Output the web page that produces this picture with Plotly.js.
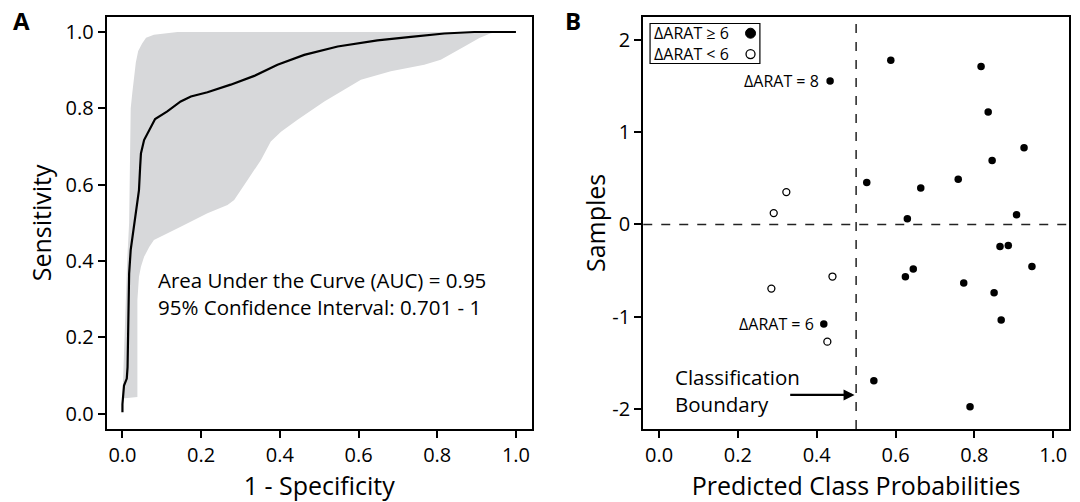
<!DOCTYPE html>
<html>
<head>
<meta charset="utf-8">
<script src="https://cdn.plot.ly/plotly-3.0.1.min.js"></script>
<style>html,body{margin:0;padding:0;background:#fff;}#chart{width:1080px;height:502px;}</style>
</head>
<body>
<div id="chart"></div>
<script>
// ---- Panel A: ROC curve ----
const rocX = [0.000, 0.000, 0.004, 0.011, 0.013, 0.017, 0.021, 0.027, 0.036, 0.042, 0.045, 0.047, 0.055, 0.068, 0.083, 0.114, 0.148, 0.174, 0.216, 0.275, 0.335, 0.394, 0.462, 0.547, 0.648, 0.733, 0.818, 0.894, 0.945, 1.000];
const rocY = [0.004, 0.025, 0.074, 0.092, 0.122, 0.367, 0.429, 0.472, 0.534, 0.586, 0.647, 0.682, 0.717, 0.744, 0.772, 0.792, 0.818, 0.831, 0.842, 0.862, 0.885, 0.914, 0.940, 0.962, 0.978, 0.987, 0.996, 1.000, 1.000, 1.000];

// confidence band: upper edge (left to right) and lower edge (right to left)
const ciUpperX = [0.000, 0.002, 0.005, 0.008, 0.012, 0.017, 0.019, 0.021, 0.025, 0.030, 0.034, 0.040, 0.050, 0.060, 0.080, 0.140, 0.962];
const ciUpperY = [0.040, 0.100, 0.210, 0.300, 0.400, 0.500, 0.650, 0.800, 0.840, 0.880, 0.920, 0.950, 0.970, 0.985, 0.993, 1.000, 1.000];
const ciLowerX = [0.962, 0.936, 0.907, 0.869, 0.809, 0.767, 0.682, 0.606, 0.563, 0.513, 0.445, 0.403, 0.377, 0.352, 0.318, 0.284, 0.267, 0.216, 0.148, 0.080, 0.068, 0.055, 0.047, 0.042, 0.038, 0.038, 0.000];
const ciLowerY = [1.000, 0.997, 0.984, 0.962, 0.927, 0.914, 0.897, 0.875, 0.849, 0.818, 0.770, 0.739, 0.713, 0.665, 0.612, 0.560, 0.547, 0.525, 0.490, 0.455, 0.437, 0.411, 0.385, 0.359, 0.297, 0.044, 0.040];

const aucText = ["Area Under the Curve (AUC) = 0.95", "95% Confidence Interval: 0.701 - 1"];

// ---- Panel B: predicted class probabilities ----
const highX = [0.588, 0.817, 0.434, 0.835, 0.926, 0.845, 0.527, 0.759, 0.664, 0.630, 0.907, 0.865, 0.886, 0.946, 0.645, 0.625, 0.773, 0.850, 0.868, 0.418, 0.545, 0.789];
const highY = [1.779, 1.710, 1.555, 1.218, 0.831, 0.694, 0.455, 0.491, 0.394, 0.061, 0.105, -0.239, -0.228, -0.456, -0.481, -0.567, -0.633, -0.738, -1.034, -1.077, -1.692, -1.974];
const lowX = [0.323, 0.291, 0.440, 0.285, 0.427];
const lowY = [0.351, 0.123, -0.564, -0.694, -1.269];

const legendLabels = ["\u0394ARAT \u2265 6", "\u0394ARAT < 6"];
const pointLabels = ["\u0394ARAT = 8", "\u0394ARAT = 6"];
const pointLabelIdx = [2, 19];
const boundary = 0.5;

const unitTicks = [0, 0.2, 0.4, 0.6, 0.8, 1.0];
const unitTickText = ["0.0", "0.2", "0.4", "0.6", "0.8", "1.0"];
const sampleTicks = [-2, -1, 0, 1, 2];
const sampleTickText = ["-2", "-1", "0", "1", "2"];

const FONT = "Open Sans, Noto Sans, sans-serif";

const bandX = ciUpperX.concat(ciLowerX);
const bandY = ciUpperY.concat(ciLowerY);

const traces = [
  {x: bandX, y: bandY, xaxis: 'x', yaxis: 'y', type: 'scatter', mode: 'lines',
   fill: 'toself', fillcolor: '#d7d8da', line: {width: 0, color: '#d7d8da'}, hoverinfo: 'skip', showlegend: false},
  {x: rocX, y: rocY, xaxis: 'x', yaxis: 'y', type: 'scatter', mode: 'lines',
   line: {color: '#000', width: 2.2}, showlegend: false},
  {x: highX, y: highY, xaxis: 'x2', yaxis: 'y2', type: 'scatter', mode: 'markers',
   marker: {color: '#000', size: 7.5, line: {width: 0}}, showlegend: false},
  {x: lowX, y: lowY, xaxis: 'x2', yaxis: 'y2', type: 'scatter', mode: 'markers',
   marker: {color: '#fff', size: 7, symbol: 'circle', line: {width: 1.3, color: '#000'}}, showlegend: false}
];

const axisCommon = {
  showgrid: false, zeroline: false, showline: true, mirror: true, linecolor: '#000', linewidth: 2,
  ticks: 'outside', ticklen: 7, tickwidth: 2, tickcolor: '#000',
  tickfont: {family: FONT, size: 20, color: '#000'}, automargin: false, fixedrange: true
};

const titleFont = {family: FONT, size: 25, color: '#000'};

const layout = {
  width: 1080, height: 502,
  margin: {l: 0, r: 0, t: 0, b: 0},
  paper_bgcolor: '#fff', plot_bgcolor: '#fff',
  font: {family: FONT, color: '#000'},
  showlegend: false,
  xaxis: Object.assign({}, axisCommon, {domain: [0.0988, 0.4923], range: [-0.04, 1.04], anchor: 'y',
    tickvals: unitTicks, ticktext: unitTickText,
    title: {text: '1 - Specificity', font: titleFont, standoff: 16}}),
  yaxis: Object.assign({}, axisCommon, {domain: [0.1454, 0.9667], range: [-0.04, 1.04], anchor: 'x',
    tickvals: unitTicks, ticktext: unitTickText,
    title: {text: 'Sensitivity', font: titleFont, standoff: 7}}),
  xaxis2: Object.assign({}, axisCommon, {domain: [0.5956, 0.9898], range: [-0.04, 1.04], anchor: 'y2',
    tickvals: unitTicks, ticktext: unitTickText,
    title: {text: 'Predicted Class Probabilities', font: titleFont, standoff: 16}}),
  yaxis2: Object.assign({}, axisCommon, {domain: [0.1454, 0.9667], range: [-2.215, 2.25], anchor: 'x2',
    tickvals: sampleTicks, ticktext: sampleTickText,
    title: {text: 'Samples', font: titleFont, standoff: 0}}),
  shapes: [
    {type: 'line', xref: 'x2', yref: 'y2 domain', x0: boundary, x1: boundary, y0: 0, y1: 1,
     line: {color: '#222', width: 1.5, dash: 'dash'}},
    {type: 'line', xref: 'x2 domain', yref: 'y2', x0: 0, x1: 1, y0: 0, y1: 0,
     line: {color: '#222', width: 1.5, dash: 'dash'}},
    // legend box
    {type: 'rect', xref: 'x2 domain', yref: 'y2 domain', x0: 0.016, x1: 0.274, y0: 0.8865, y1: 0.9835,
     line: {color: '#000', width: 1.2}, fillcolor: '#fff'},
    {type: 'circle', xref: 'x2 domain', yref: 'y2 domain', xsizemode: 'pixel', ysizemode: 'pixel',
     xanchor: 0.252, yanchor: 0.960, x0: -5, x1: 5, y0: -5, y1: 5, fillcolor: '#000', line: {color: '#000', width: 1}},
    {type: 'circle', xref: 'x2 domain', yref: 'y2 domain', xsizemode: 'pixel', ysizemode: 'pixel',
     xanchor: 0.252, yanchor: 0.9095, x0: -4.5, x1: 4.5, y0: -4.5, y1: 4.5, fillcolor: '#fff', line: {color: '#000', width: 1.3}}
  ],
  annotations: [
    {xref: 'paper', yref: 'paper', x: 0.0199, y: 0.960, text: '<b>A</b>', showarrow: false,
     font: {family: FONT, size: 24, color: '#000'}, xanchor: 'center', yanchor: 'middle'},
    {xref: 'paper', yref: 'paper', x: 0.531, y: 0.960, text: '<b>B</b>', showarrow: false,
     font: {family: FONT, size: 24, color: '#000'}, xanchor: 'center', yanchor: 'middle'},
    {xref: 'x', yref: 'y', x: 0.085, y: 0.315, text: aucText.join('<br>'), showarrow: false, align: 'left',
     xanchor: 'left', yanchor: 'middle', font: {family: FONT, size: 20.5, color: '#000'}},
    {xref: 'x2', yref: 'y2', x: highX[pointLabelIdx[0]] - 0.022, y: highY[pointLabelIdx[0]], text: pointLabels[0], showarrow: false,
     xanchor: 'right', yanchor: 'middle', font: {family: FONT, size: 16, color: '#000'}},
    {xref: 'x2', yref: 'y2', x: highX[pointLabelIdx[1]] - 0.02, y: highY[pointLabelIdx[1]], text: pointLabels[1], showarrow: false,
     xanchor: 'right', yanchor: 'middle', font: {family: FONT, size: 16, color: '#000'}},
    {xref: 'x2 domain', yref: 'y2 domain', x: 0.02, y: 0.960, text: legendLabels[0], showarrow: false,
     xanchor: 'left', yanchor: 'middle', font: {family: FONT, size: 16, color: '#000'}},
    {xref: 'x2 domain', yref: 'y2 domain', x: 0.02, y: 0.9095, text: legendLabels[1], showarrow: false,
     xanchor: 'left', yanchor: 'middle', font: {family: FONT, size: 16, color: '#000'}},
    {xref: 'x2', yref: 'y2', x: 0.036, y: -1.796, text: 'Classification<br>Boundary', showarrow: false, align: 'left',
     xanchor: 'left', yanchor: 'middle', font: {family: FONT, size: 20.5, color: '#000'}},
    {xref: 'x2', yref: 'y2', axref: 'x2', ayref: 'y2', x: boundary - 0.004, y: -1.846, ax: 0.329, ay: -1.846,
     text: '', showarrow: true, arrowhead: 2, arrowsize: 1, arrowwidth: 2.2, arrowcolor: '#000', standoff: 0}
  ]
};

Plotly.newPlot('chart', traces, layout, {displayModeBar: false, staticPlot: true});
</script>
</body>
</html>
